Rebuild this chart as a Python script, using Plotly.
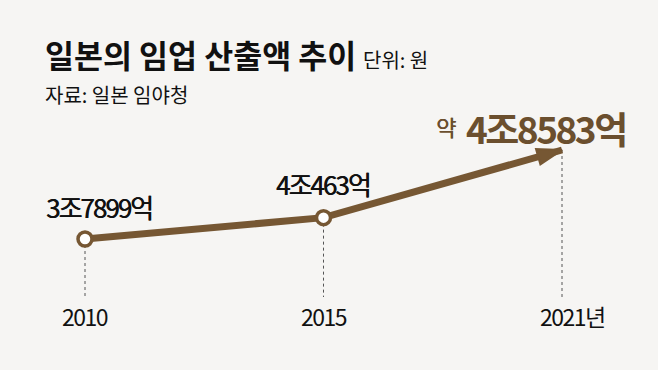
import plotly.graph_objects as go

# ---- data ----
years = ["2010", "2015", "2021"]
year_labels = ["2010", "2015", "2021년"]
values = [37899, 40463, 48583]          # 억 원
value_labels = ["3조7899억", "4조463억", "4조8583억"]

title = "일본의 임업 산출액 추이"
unit = "단위: 원"
source = "자료: 일본 임야청"

W, H = 658, 370
BG = "#f6f5f3"
BROWN = "#765733"
TEXT_BROWN = "#6b4f2e"
KR = "Noto Sans CJK KR, sans-serif"


def tight(s, ls):
    return "<span style='letter-spacing:%spx'>%s</span>" % (ls, s)


# axis ranges (layout choice so the line sits where the reference has it)
px_per_unit = (239 - 150) / (values[-1] - values[0])
Y_TOP = values[-1] + 150 / px_per_unit
Y_BOT = Y_TOP - H / px_per_unit
X0 = -85 / 238.5
X1 = X0 + W / 238.5
y_dash_bottom = Y_TOP - 297 / px_per_unit

fig = go.Figure()

# dashed guides
for x, v in zip(years, values):
    fig.add_trace(go.Scatter(
        x=[x, x], y=[v, y_dash_bottom], mode="lines",
        line=dict(color="#555555", width=1, dash="3px,3px"),
        hoverinfo="skip", showlegend=False))

# main line ending in an arrow head
fig.add_trace(go.Scatter(
    x=years, y=values, mode="lines+markers",
    line=dict(color=BROWN, width=7),
    marker=dict(symbol="arrow", angleref="previous",
                size=[0, 0, 26], color=BROWN, opacity=1,
                line=dict(color=BROWN, width=2)),
    hoverinfo="skip", showlegend=False))

# circle markers at the first two points
fig.add_trace(go.Scatter(
    x=years[:2], y=values[:2], mode="markers",
    marker=dict(symbol="circle", size=14, color="white",
                line=dict(color=BROWN, width=3.5)),
    hoverinfo="skip", showlegend=False))

ann = []
label_font = dict(family=KR, size=26, color="#111111", shadow="0.5px 0 0 #111111")
# value labels (x given as category index)
ann.append(dict(x=0, y=values[0], xref="x", yref="y", text=tight(value_labels[0], -2),
                showarrow=False, xanchor="center", yanchor="middle", xshift=14, yshift=33,
                font=label_font))
ann.append(dict(x=1, y=values[1], xref="x", yref="y", text=tight(value_labels[1], -2),
                showarrow=False, xanchor="center", yanchor="middle", xshift=-1, yshift=34,
                font=label_font))
ann.append(dict(x=2, y=values[2], xref="x", yref="y", text="약",
                showarrow=False, xanchor="right", yanchor="middle", xshift=-104, yshift=24,
                font=dict(family=KR, size=22, color=TEXT_BROWN, shadow="0.4px 0 0 " + TEXT_BROWN)))
ann.append(dict(x=2, y=values[2], xref="x", yref="y",
                text="<b>" + tight(value_labels[2], -2.5) + "</b>",
                showarrow=False, xanchor="left", yanchor="middle", xshift=-98, yshift=22,
                font=dict(family=KR, size=37, color=TEXT_BROWN)))

# x labels
for i, lab in enumerate(year_labels):
    ann.append(dict(x=i, y=1 - 316 / H, xref="x", yref="paper", text=tight(lab, -1.5),
                    showarrow=False, xanchor="left" if lab.endswith("년") else "center",
                    xshift=-24 if lab.endswith("년") else 0,
                    yanchor="middle",
                    font=dict(family=KR, size=23, color="#111111")))

# title block
ann.append(dict(x=43 / W, y=1 - 54 / H, xref="paper", yref="paper", text="<b>" + title + "</b>",
                showarrow=False, xanchor="left", yanchor="middle",
                font=dict(family=KR, size=31.5, color="#111111")))
ann.append(dict(x=361 / W, y=1 - 59 / H, xref="paper", yref="paper", text=unit,
                showarrow=False, xanchor="left", yanchor="middle",
                font=dict(family=KR, size=20, color="#111111")))
ann.append(dict(x=43 / W, y=1 - 94 / H, xref="paper", yref="paper", text=source,
                showarrow=False, xanchor="left", yanchor="middle",
                font=dict(family=KR, size=20, color="#111111")))

fig.update_layout(
    width=W, height=H,
    margin=dict(l=0, r=0, t=0, b=0),
    paper_bgcolor=BG, plot_bgcolor=BG,
    xaxis=dict(type="category", range=[X0, X1], visible=False, fixedrange=True),
    yaxis=dict(range=[Y_BOT, Y_TOP], visible=False, fixedrange=True),
    annotations=ann,
    showlegend=False,
)

fig.write_html("out.html", config={"displayModeBar": False},
               post_script="document.body.style.margin='0';document.body.style.background='" + BG + "';")
